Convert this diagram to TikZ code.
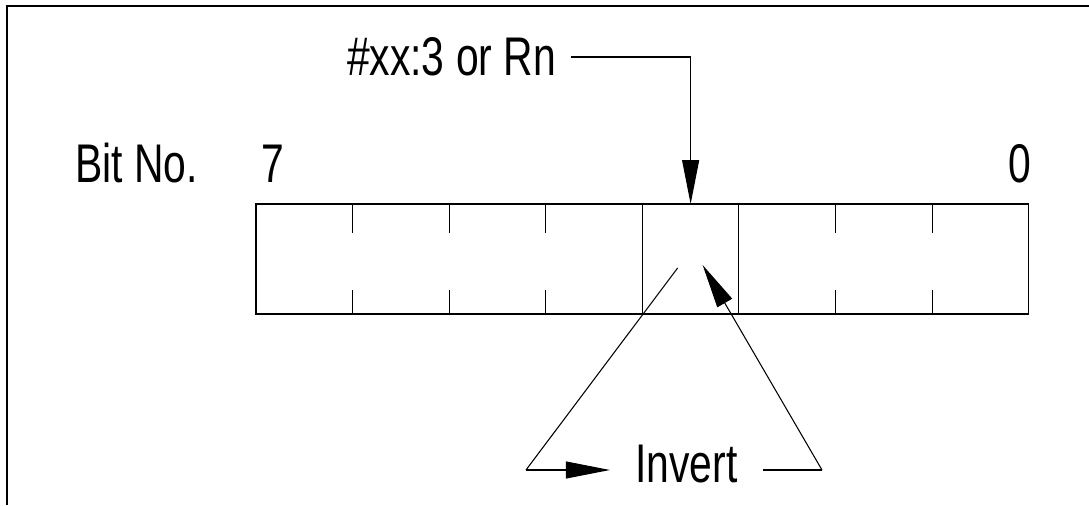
\documentclass[tikz,border=0pt]{standalone}
\usepackage{fontspec}
\setmainfont[FakeStretch=0.75]{Liberation Sans}
\usetikzlibrary{arrows.meta,positioning}

\begin{document}
\begin{tikzpicture}[x=0.02cm, y=0.02cm, >={Triangle[length=0.88cm,width=0.34cm]}, line width=0.6pt]
    \tikzstyle{cell} = [rectangle, minimum width=1.932cm, minimum height=2.2cm,
        inner sep=0pt, outer sep=0pt]
    \tikzstyle{txt} = [font=\fontsize{31}{36}\selectfont, inner sep=0pt]
    \tikzstyle{line} = [draw, ->]

    \useasboundingbox (0,0) rectangle (1089,505);
    \draw [line width=1.15pt] (7,0) -- (7,499) -- (1089,499);

    % register, bit 7 down to bit 0
    \node [cell] (b7) at (304.3,246) {};
    \foreach \i [remember=\i as \j (initially 7)] in {6,...,0}
        \node [cell, right=0pt of b\j] (b\i) {};
    \draw (b7.north west) rectangle (b0.south east);
    \foreach \i in {7,6,5,2,1} {
        \draw (b\i.north east) -- ++(0,-29);
        \draw (b\i.south east) -- ++(0,24);
    }
    \draw (b3.north west) -- (b3.south west);
    \draw (b3.north east) -- (b3.south east);

    \node [txt, anchor=base] (bitno) at (136.5,323) {Bit No.};
    \node [txt, anchor=base] (msb) at (272.5,323) {7};
    \node [txt, anchor=base] (lsb) at (1020,323) {0};

    \node [txt, inner xsep=0.3cm] (sel) at (451.5,448) {\#xx:3 or Rn};
    \path [line] (sel) -| (b3.north);

    \node [txt, inner xsep=0.5cm, anchor=base] (invert) at (686.5,23) {Invert};
    \coordinate (il) at (526,35);
    \coordinate (ir) at (822,35);
    \coordinate (from) at ([shift={(-13,-9)}]b3.center);
    \coordinate (to) at ([shift={(12,-6)}]b3.center);
    \draw (from) -- (il);
    \path [line] (il) -- (invert.west |- il);
    \draw (invert.east |- ir) -- (ir);
    \path [line] (ir) -- (to);
\end{tikzpicture}
\end{document}
